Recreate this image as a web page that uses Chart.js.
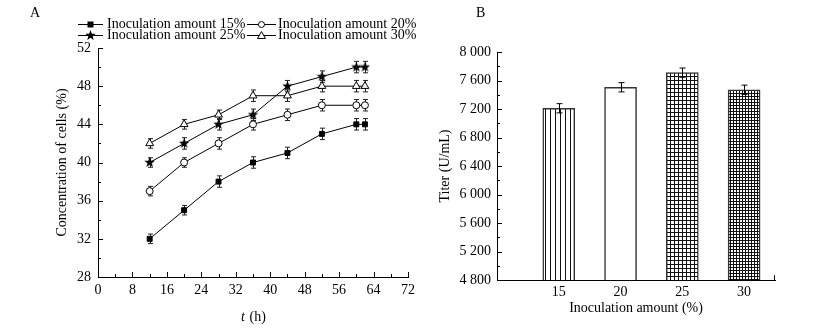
<!DOCTYPE html>
<html>
<head>
<meta charset="utf-8">
<script src="https://cdn.jsdelivr.net/npm/chart.js@4.4.1/dist/chart.umd.min.js"></script>
<style>
  html, body { margin: 0; padding: 0; background: #fff; }
  #wrap { position: relative; width: 830px; height: 329px; }
  #left { position: absolute; left: 0; top: 0; }
  #right { position: absolute; left: 430px; top: 0; }
</style>
</head>
<body>
<div id="wrap">
  <canvas id="left" width="430" height="329"></canvas>
  <canvas id="right" width="400" height="329"></canvas>
</div>
<script>
// growth curves (panel A)
const hours = [12, 20, 28, 36, 44, 52, 60, 62];
const cells15 = [32, 35, 38, 40, 41, 43, 44, 44];
const cells20 = [37, 40, 42, 44, 45, 46, 46, 46];
const cells25 = [40, 42, 44, 45, 48, 49, 50, 50];
const cells30 = [42, 44, 45, 47, 47, 48, 48, 48];
const err15 = [0.5, 0.5, 0.6, 0.6, 0.6, 0.6, 0.6, 0.6];
const err20 = [0.5, 0.5, 0.6, 0.6, 0.6, 0.6, 0.6, 0.6];
const err25 = [0.5, 0.6, 0.6, 0.6, 0.6, 0.6, 0.6, 0.6];
const err30 = [0.5, 0.5, 0.5, 0.6, 0.6, 0.6, 0.6, 0.6];
const seriesNames = ['Inoculation amount 15%', 'Inoculation amount 20%',
                     'Inoculation amount 25%', 'Inoculation amount 30%'];

// titer (panel B)
const amounts = [15, 20, 25, 30];
const titers = [7210, 7505, 7710, 7470];
const titerErr = [65, 65, 65, 65];

const FONT = '"Liberation Serif", "Times New Roman", serif';
Chart.defaults.font.family = FONT;
Chart.defaults.font.size = 14;
Chart.defaults.color = '#000';

// filled five-point star used as a point style
function makeStar(size) {
  const c = document.createElement('canvas');
  c.width = size; c.height = size;
  const g = c.getContext('2d');
  const cx = size / 2, cy = size / 2, ro = size / 2, ri = ro * 0.42;
  g.beginPath();
  for (let i = 0; i < 10; i++) {
    const r = i % 2 ? ri : ro;
    const a = -Math.PI / 2 + i * Math.PI / 5;
    g.lineTo(cx + r * Math.cos(a), cy + r * Math.sin(a));
  }
  g.closePath();
  g.fillStyle = '#000';
  g.fill();
  return c;
}
const star = makeStar(11);

function drawMarker(ctx, kind, x, y) {
  ctx.save();
  ctx.strokeStyle = '#000';
  ctx.fillStyle = '#fff';
  ctx.lineWidth = 1;
  if (kind === 'rect') {
    ctx.fillStyle = '#000';
    ctx.fillRect(x - 3, y - 3, 6, 6);
  } else if (kind === 'circle') {
    ctx.beginPath(); ctx.arc(x, y, 3, 0, Math.PI * 2); ctx.fill(); ctx.stroke();
  } else if (kind === 'star') {
    ctx.drawImage(star, x - 5.5, y - 5.5);
  } else {
    ctx.beginPath();
    ctx.moveTo(x, y - 4); ctx.lineTo(x + 4, y + 3); ctx.lineTo(x - 4, y + 3);
    ctx.closePath(); ctx.fill(); ctx.stroke();
  }
  ctx.restore();
}

// short tick marks drawn inside the plot area, with minor ticks halfway
const innerTicks = {
  id: 'innerTicks',
  afterDraw(chart, args, opts) {
    const { ctx, chartArea: a } = chart;
    ctx.save();
    ctx.strokeStyle = '#000';
    ctx.lineWidth = 1;
    ctx.beginPath();
    const xs = chart.scales.x, ys = chart.scales.y;
    if (opts.xTicks) {
      const v = xs.ticks.map(t => t.value);
      v.forEach((val, i) => {
        const p = Math.round(xs.getPixelForValue(val)) + 0.5;
        ctx.moveTo(p, a.bottom); ctx.lineTo(p, a.bottom - 5);
        if (i < v.length - 1) {
          const m = Math.round(xs.getPixelForValue((val + v[i + 1]) / 2)) + 0.5;
          ctx.moveTo(m, a.bottom); ctx.lineTo(m, a.bottom - 3);
        }
      });
    } else {
      const p = Math.round(a.right) - 0.5;
      ctx.moveTo(p, a.bottom); ctx.lineTo(p, a.bottom - 5);
    }
    const v = ys.ticks.map(t => t.value);
    v.forEach((val, i) => {
      const p = Math.round(ys.getPixelForValue(val)) + 0.5;
      ctx.moveTo(a.left, p); ctx.lineTo(a.left + 5, p);
      if (i < v.length - 1) {
        const m = Math.round(ys.getPixelForValue((val + v[i + 1]) / 2)) + 0.5;
        ctx.moveTo(a.left, m); ctx.lineTo(a.left + 3, m);
      }
    });
    ctx.stroke();
    ctx.restore();
  }
};

function capBar(ctx, x, yTop, yBot, w) {
  ctx.moveTo(x, yTop); ctx.lineTo(x, yBot);
  ctx.moveTo(x - w, yTop); ctx.lineTo(x + w, yTop);
  ctx.moveTo(x - w, yBot); ctx.lineTo(x + w, yBot);
}

const lineErrors = {
  id: 'lineErrors',
  beforeDatasetsDraw(chart) {
    const { ctx } = chart;
    const ys = chart.scales.y;
    ctx.save();
    ctx.strokeStyle = '#222';
    ctx.lineWidth = 1;
    ctx.beginPath();
    chart.data.datasets.forEach((ds, di) => {
      const meta = chart.getDatasetMeta(di);
      meta.data.forEach((pt, i) => {
        const y = ds.data[i].y, e = ds.errors[i];
        capBar(ctx, Math.round(pt.x) + 0.5, ys.getPixelForValue(y + e), ys.getPixelForValue(y - e), 2.5);
      });
    });
    ctx.stroke();
    ctx.restore();
  }
};

const legendA = {
  id: 'legendA',
  afterDraw(chart) {
    const { ctx } = chart;
    const kinds = ['rect', 'circle', 'star', 'triangle'];
    const cols = [[78, 103, 107], [247, 276, 278]];
    ctx.save();
    ctx.font = '14px ' + FONT;
    ctx.fillStyle = '#000';
    ctx.textBaseline = 'middle';
    seriesNames.forEach((name, i) => {
      const [x0, x1, tx] = cols[i % 2];
      const y = i < 2 ? 24 : 35;
      ctx.beginPath();
      ctx.strokeStyle = '#000';
      ctx.lineWidth = 1;
      ctx.moveTo(x0, y + 0.5); ctx.lineTo(x1, y + 0.5);
      ctx.stroke();
      drawMarker(ctx, kinds[i], (x0 + x1) / 2, y + 0.5);
      ctx.fillText(name, tx, y);
    });
    ctx.fillText('A', 30, 13);
    // x axis title with italic t
    ctx.font = 'italic 14px ' + FONT;
    ctx.fillText('t', 241, 317);
    ctx.font = '14px ' + FONT;
    ctx.fillText(' (h)', 246, 317);
    ctx.restore();
  }
};

function lineSet(values, errors, style, fill) {
  return {
    data: hours.map((h, i) => ({ x: h, y: values[i] })),
    errors,
    borderColor: '#000',
    borderWidth: 1,
    pointStyle: style,
    pointRadius: style === 'triangle' ? 4.5 : 3.5,
    pointBorderWidth: 1,
    pointBorderColor: '#000',
    pointBackgroundColor: fill,
    tension: 0
  };
}

new Chart(document.getElementById('left'), {
  type: 'line',
  data: {
    datasets: [
      lineSet(cells15, err15, 'rect', '#000'),
      lineSet(cells20, err20, 'circle', '#fff'),
      lineSet(cells25, err25, star, '#000'),
      lineSet(cells30, err30, 'triangle', '#fff')
    ]
  },
  options: {
    responsive: false,
    animation: false,
    layout: { padding: { left: 50, right: 22, top: 48, bottom: 0 } },
    plugins: { legend: { display: false }, tooltip: { enabled: false }, innerTicks: { xTicks: true } },
    scales: {
      x: {
        type: 'linear', min: 0, max: 72,
        ticks: { stepSize: 8, padding: 5, maxRotation: 0 },
        grid: { display: false, drawTicks: false },
        border: { display: true, color: '#000', width: 1 },
        afterFit(s) { s.height = 52; }
      },
      y: {
        min: 28, max: 52,
        ticks: { stepSize: 4, padding: 7 },
        grid: { display: false, drawTicks: false },
        border: { display: true, color: '#000', width: 1 },
        title: { display: true, text: 'Concentration of cells (%)', padding: { top: 4, bottom: 0 } },
        afterFit(s) { s.width = 48; }
      }
    }
  },
  plugins: [lineErrors, innerTicks, legendA]
});

// hatch fills for the bars
function makePattern(kind) {
  const size = kind === 'vlines' ? 5 : kind === 'grid' ? 4 : 3;
  const c = document.createElement('canvas');
  c.width = size; c.height = size;
  const g = c.getContext('2d');
  g.fillStyle = '#fff';
  g.fillRect(0, 0, size, size);
  g.fillStyle = '#111';
  if (kind === 'vlines') {
    g.fillRect(0, 0, 1, size);
  } else if (kind !== 'blank') {
    g.fillRect(0, 0, 1, size);
    g.fillRect(0, 0, size, 1);
  }
  return g.createPattern(c, 'repeat');
}
const barFills = ['vlines', 'blank', 'grid', 'dense'].map(makePattern);

const barErrors = {
  id: 'barErrors',
  afterDatasetsDraw(chart) {
    const { ctx } = chart;
    const ys = chart.scales.y;
    const ds = chart.data.datasets[0];
    const meta = chart.getDatasetMeta(0);
    ctx.save();
    ctx.strokeStyle = '#000';
    ctx.lineWidth = 1;
    ctx.beginPath();
    meta.data.forEach((bar, i) => {
      const y = ds.data[i].y, e = ds.errors[i];
      capBar(ctx, Math.round(bar.x) + 0.5, ys.getPixelForValue(y + e), ys.getPixelForValue(y - e), 3);
    });
    ctx.stroke();
    ctx.font = '14px ' + FONT;
    ctx.fillStyle = '#000';
    ctx.textBaseline = 'middle';
    ctx.fillText('B', 46, 13);
    ctx.restore();
  }
};

const spaced = v => String(v).replace(/\B(?=(\d{3})+$)/g, ' ');

new Chart(document.getElementById('right'), {
  type: 'bar',
  data: {
    datasets: [{
      data: amounts.map((a, i) => ({ x: a, y: titers[i] })),
      errors: titerErr,
      backgroundColor: barFills,
      borderColor: '#333',
      borderWidth: 1.5,
      barThickness: 32
    }]
  },
  options: {
    responsive: false,
    animation: false,
    layout: { padding: { left: 3, right: 55, top: 52, bottom: 8 } },
    plugins: { legend: { display: false }, tooltip: { enabled: false }, innerTicks: { xTicks: false } },
    scales: {
      x: {
        type: 'linear', min: 10, max: 32.5, offset: false,
        afterBuildTicks(s) { s.ticks = amounts.map(v => ({ value: v })); },
        ticks: { padding: 4, maxRotation: 0, callback: v => String(v) },
        grid: { display: false, drawTicks: false },
        border: { display: true, color: '#000', width: 1 },
        title: { display: true, text: 'Inoculation amount (%)', padding: { top: 4, bottom: 4 } },
        afterFit(s) { s.height = 41; }
      },
      y: {
        min: 4800, max: 8000,
        ticks: { stepSize: 400, padding: 6, callback: v => spaced(v) },
        grid: { display: false, drawTicks: false },
        border: { display: true, color: '#000', width: 1 },
        title: { display: true, text: 'Titer (U/mL)', padding: { top: 4, bottom: 0 } },
        afterFit(s) { s.width = 64; }
      }
    }
  },
  plugins: [barErrors, innerTicks]
});
</script>
</body>
</html>
